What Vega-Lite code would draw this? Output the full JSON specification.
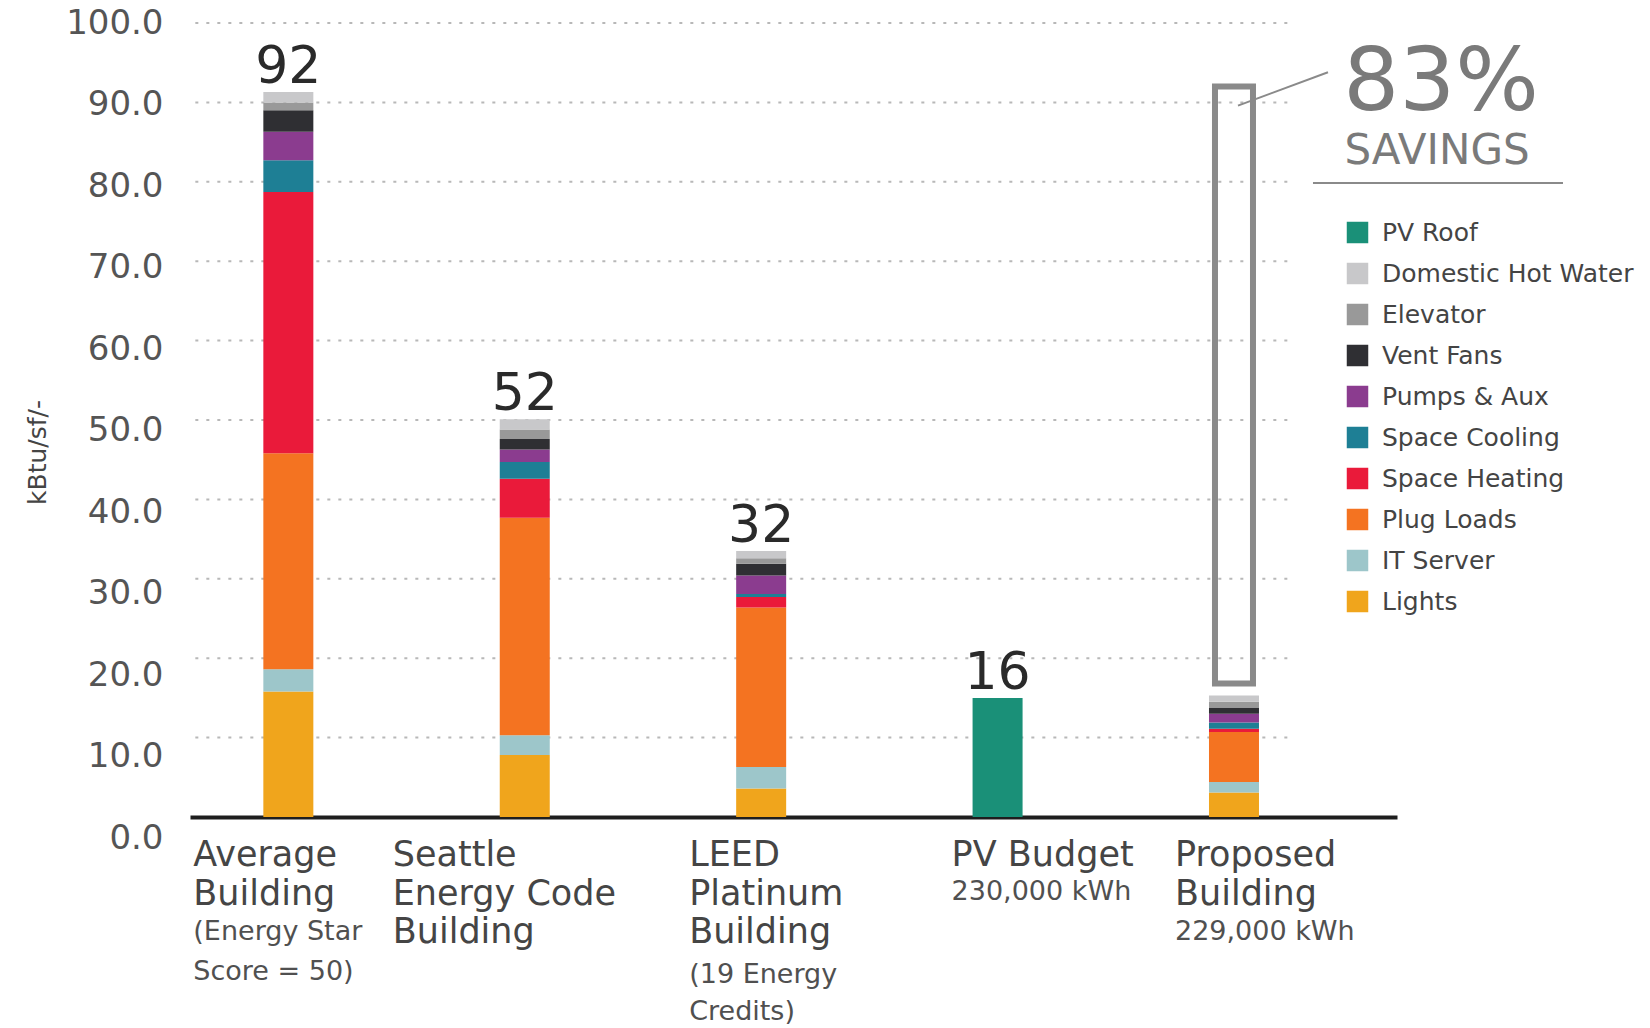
{
  "$schema": "https://vega.github.io/schema/vega-lite/v6.json",
  "width": 1207,
  "height": 794,
  "autosize": {"type": "none"},
  "padding": {"left": 190, "top": 23, "right": 253, "bottom": 211},
  "background": "white",
  "config": {"view": {"stroke": null}, "font": "DejaVu Sans"},
  "datasets": {
    "energy": [
      {"building": "Average Building", "component": "Lights", "value": 15.8},
      {"building": "Average Building", "component": "IT Server", "value": 2.8},
      {"building": "Average Building", "component": "Plug Loads", "value": 27.2},
      {"building": "Average Building", "component": "Space Heating", "value": 32.9},
      {"building": "Average Building", "component": "Space Cooling", "value": 4.0},
      {"building": "Average Building", "component": "Pumps & Aux", "value": 3.6},
      {"building": "Average Building", "component": "Vent Fans", "value": 2.7},
      {"building": "Average Building", "component": "Elevator", "value": 1.0},
      {"building": "Average Building", "component": "Domestic Hot Water", "value": 1.3},
      {"building": "Seattle Energy Code Building", "component": "Lights", "value": 7.8},
      {"building": "Seattle Energy Code Building", "component": "IT Server", "value": 2.5},
      {"building": "Seattle Energy Code Building", "component": "Plug Loads", "value": 27.4},
      {"building": "Seattle Energy Code Building", "component": "Space Heating", "value": 4.9},
      {"building": "Seattle Energy Code Building", "component": "Space Cooling", "value": 2.1},
      {"building": "Seattle Energy Code Building", "component": "Pumps & Aux", "value": 1.6},
      {"building": "Seattle Energy Code Building", "component": "Vent Fans", "value": 1.3},
      {"building": "Seattle Energy Code Building", "component": "Elevator", "value": 1.2},
      {"building": "Seattle Energy Code Building", "component": "Domestic Hot Water", "value": 1.3},
      {"building": "LEED Platinum Building", "component": "Lights", "value": 3.6},
      {"building": "LEED Platinum Building", "component": "IT Server", "value": 2.7},
      {"building": "LEED Platinum Building", "component": "Plug Loads", "value": 20.1},
      {"building": "LEED Platinum Building", "component": "Space Heating", "value": 1.3},
      {"building": "LEED Platinum Building", "component": "Space Cooling", "value": 0.4},
      {"building": "LEED Platinum Building", "component": "Pumps & Aux", "value": 2.3},
      {"building": "LEED Platinum Building", "component": "Vent Fans", "value": 1.5},
      {"building": "LEED Platinum Building", "component": "Elevator", "value": 0.7},
      {"building": "LEED Platinum Building", "component": "Domestic Hot Water", "value": 0.9},
      {"building": "PV Budget", "component": "PV Roof", "value": 15.0},
      {"building": "Proposed Building", "component": "Lights", "value": 3.1},
      {"building": "Proposed Building", "component": "IT Server", "value": 1.3},
      {"building": "Proposed Building", "component": "Plug Loads", "value": 6.3},
      {"building": "Proposed Building", "component": "Space Heating", "value": 0.4},
      {"building": "Proposed Building", "component": "Space Cooling", "value": 0.8},
      {"building": "Proposed Building", "component": "Pumps & Aux", "value": 1.1},
      {"building": "Proposed Building", "component": "Vent Fans", "value": 0.8},
      {"building": "Proposed Building", "component": "Elevator", "value": 0.7},
      {"building": "Proposed Building", "component": "Domestic Hot Water", "value": 0.8}
    ],
    "grid": [
      {"g": 10}, {"g": 20}, {"g": 30}, {"g": 40}, {"g": 50},
      {"g": 60}, {"g": 70}, {"g": 80}, {"g": 90}, {"g": 100}
    ],
    "totals": [
      {"building": "Average Building", "top": 91.3, "label": "92"},
      {"building": "Seattle Energy Code Building", "top": 50.1, "label": "52"},
      {"building": "LEED Platinum Building", "top": 33.5, "label": "32"},
      {"building": "PV Budget", "top": 15.0, "label": "16"}
    ],
    "box": [
      {"building": "Proposed Building", "low": 16.8, "high": 92.0}
    ],
    "labels": [
      {"building": "Average Building", "name": "Average\nBuilding", "sub": "(Energy Star\nScore = 50)"},
      {"building": "Seattle Energy Code Building", "name": "Seattle\nEnergy Code\nBuilding", "sub": ""},
      {"building": "LEED Platinum Building", "name": "LEED\nPlatinum\nBuilding", "sub": "(19 Energy\nCredits)"},
      {"building": "PV Budget", "name": "PV Budget", "sub": "230,000 kWh"},
      {"building": "Proposed Building", "name": "Proposed\nBuilding", "sub": "229,000 kWh"}
    ],
    "savings": [
      {"building": "Proposed Building", "big": "83%", "bigY": 89.1, "small": "SAVINGS", "smallY": 82.3, "lineY": 79.85, "leadFrom": 89.6, "leadTo": 93.8}
    ]
  },
  "encoding": {
    "x": {
      "field": "building",
      "type": "nominal",
      "sort": ["Average Building", "Seattle Energy Code Building", "LEED Platinum Building", "PV Budget", "Proposed Building"],
      "scale": {"paddingInner": 0.7885, "paddingOuter": 0.447, "align": 0.347},
      "axis": {"title": null, "labels": false, "ticks": false, "grid": false, "domainColor": "#1e1e1e", "domainWidth": 4}
    }
  },
  "layer": [
    {
      "data": {"name": "grid"},
      "mark": {"type": "rule", "color": "#b8b8b8", "strokeWidth": 2, "strokeDash": [3, 8], "xOffset": -93, "x2Offset": 60},
      "encoding": {
        "x": {"datum": "Average Building"},
        "x2": {"datum": "Proposed Building"},
        "y": {"field": "g", "type": "quantitative", "title": "kBtu/sf/-", "scale": {"domain": [0, 100], "nice": false}}
      }
    },
    {
      "data": {"name": "energy"},
      "transform": [
        {"calculate": "indexof(['Lights','IT Server','Plug Loads','Space Heating','Space Cooling','Pumps & Aux','Vent Fans','Elevator','Domestic Hot Water','PV Roof'], datum.component)", "as": "stackRank"}
      ],
      "mark": {"type": "bar"},
      "encoding": {
        "y": {
          "field": "value",
          "type": "quantitative",
          "stack": "zero",
          "title": "kBtu/sf/-",
          "scale": {"domain": [0, 100], "nice": false},
          "axis": {
            "title": "kBtu/sf/-",
            "titleFont": "DejaVu Sans",
            "titleFontSize": 25,
            "titleFontWeight": "normal",
            "titleColor": "#444444",
            "titleAngle": -90,
            "titleX": -153,
            "titleY": 429,
            "titleAlign": "center",
            "titleBaseline": "middle",
            "values": [0, 10, 20, 30, 40, 50, 60, 70, 80, 90, 100],
            "format": ".1f",
            "labelFont": "DejaVu Sans",
            "labelFontSize": 34,
            "labelColor": "#555555",
            "labelPadding": 27,
            "labelOffset": {"condition": {"test": "datum.value < 100", "expr": "(100 - datum.value) * 0.21"}, "value": 0},
            "ticks": false,
            "tickSize": 0,
            "domain": false,
            "grid": false
          }
        },
        "order": {"field": "stackRank", "type": "quantitative", "sort": "ascending"},
        "color": {
          "field": "component",
          "type": "nominal",
          "scale": {
            "domain": ["PV Roof", "Domestic Hot Water", "Elevator", "Vent Fans", "Pumps & Aux", "Space Cooling", "Space Heating", "Plug Loads", "IT Server", "Lights"],
            "range": ["#1a9078", "#c8c8ca", "#999999", "#2f2f33", "#8b3c8f", "#1e7f95", "#ea1a3a", "#f47321", "#9dc6ca", "#f0a51c"]
          },
          "legend": {
            "orient": "none",
            "legendX": 1155,
            "legendY": 197,
            "title": null,
            "symbolType": "square",
            "symbolSize": 462,
            "symbolStrokeWidth": 0,
            "symbolOpacity": 1,
            "labelFont": "DejaVu Sans",
            "labelFontSize": 25,
            "labelColor": "#444444",
            "labelOffset": 12,
            "labelLimit": 400,
            "rowPadding": 15,
            "padding": 0
          }
        }
      }
    },
    {
      "data": {"name": "box"},
      "mark": {"type": "bar", "filled": false, "color": "#8a8a8a", "strokeWidth": 6, "width": 38},
      "encoding": {
        "y": {"field": "low", "type": "quantitative", "title": "kBtu/sf/-", "scale": {"domain": [0, 100], "nice": false}},
        "y2": {"field": "high"}
      }
    },
    {
      "data": {"name": "totals"},
      "mark": {"type": "text", "fontSize": 52, "color": "#2a2a2a", "baseline": "alphabetic", "align": "center", "dy": -9},
      "encoding": {
        "y": {"field": "top", "type": "quantitative", "title": "kBtu/sf/-", "scale": {"domain": [0, 100], "nice": false}},
        "text": {"field": "label"}
      }
    },
    {
      "data": {"name": "labels"},
      "transform": [{"filter": "datum.building == 'Average Building'"}],
      "mark": {"type": "text", "align": "left", "baseline": "top", "dx": -95, "dy": 21, "fontSize": 35, "lineHeight": 38.5, "lineBreak": "\n", "color": "#454545"},
      "encoding": {"y": {"datum": 0, "type": "quantitative", "title": "kBtu/sf/-", "scale": {"domain": [0, 100], "nice": false}}, "text": {"field": "name"}}
    },
    {
      "data": {"name": "labels"},
      "transform": [{"filter": "datum.building == 'Seattle Energy Code Building'"}],
      "mark": {"type": "text", "align": "left", "baseline": "top", "dx": -132, "dy": 21, "fontSize": 35, "lineHeight": 38.5, "lineBreak": "\n", "color": "#454545"},
      "encoding": {"y": {"datum": 0, "type": "quantitative", "title": "kBtu/sf/-", "scale": {"domain": [0, 100], "nice": false}}, "text": {"field": "name"}}
    },
    {
      "data": {"name": "labels"},
      "transform": [{"filter": "datum.building == 'LEED Platinum Building'"}],
      "mark": {"type": "text", "align": "left", "baseline": "top", "dx": -72, "dy": 21, "fontSize": 35, "lineHeight": 38.5, "lineBreak": "\n", "color": "#454545"},
      "encoding": {"y": {"datum": 0, "type": "quantitative", "title": "kBtu/sf/-", "scale": {"domain": [0, 100], "nice": false}}, "text": {"field": "name"}}
    },
    {
      "data": {"name": "labels"},
      "transform": [{"filter": "datum.building == 'PV Budget'"}],
      "mark": {"type": "text", "align": "left", "baseline": "top", "dx": -46, "dy": 21, "fontSize": 35, "lineHeight": 38.5, "lineBreak": "\n", "color": "#454545"},
      "encoding": {"y": {"datum": 0, "type": "quantitative", "title": "kBtu/sf/-", "scale": {"domain": [0, 100], "nice": false}}, "text": {"field": "name"}}
    },
    {
      "data": {"name": "labels"},
      "transform": [{"filter": "datum.building == 'Proposed Building'"}],
      "mark": {"type": "text", "align": "left", "baseline": "top", "dx": -59, "dy": 21, "fontSize": 35, "lineHeight": 38.5, "lineBreak": "\n", "color": "#454545"},
      "encoding": {"y": {"datum": 0, "type": "quantitative", "title": "kBtu/sf/-", "scale": {"domain": [0, 100], "nice": false}}, "text": {"field": "name"}}
    },
    {
      "data": {"name": "labels"},
      "transform": [{"filter": "datum.building == 'Average Building'"}],
      "mark": {"type": "text", "align": "left", "baseline": "top", "dx": -95, "dy": 102, "fontSize": 27, "lineHeight": 40, "lineBreak": "\n", "color": "#505050"},
      "encoding": {"y": {"datum": 0, "type": "quantitative", "title": "kBtu/sf/-", "scale": {"domain": [0, 100], "nice": false}}, "text": {"field": "sub"}}
    },
    {
      "data": {"name": "labels"},
      "transform": [{"filter": "datum.building == 'LEED Platinum Building'"}],
      "mark": {"type": "text", "align": "left", "baseline": "top", "dx": -72, "dy": 145, "fontSize": 27, "lineHeight": 37, "lineBreak": "\n", "color": "#505050"},
      "encoding": {"y": {"datum": 0, "type": "quantitative", "title": "kBtu/sf/-", "scale": {"domain": [0, 100], "nice": false}}, "text": {"field": "sub"}}
    },
    {
      "data": {"name": "labels"},
      "transform": [{"filter": "datum.building == 'PV Budget'"}],
      "mark": {"type": "text", "align": "left", "baseline": "top", "dx": -46, "dy": 62, "fontSize": 27, "lineHeight": 40, "lineBreak": "\n", "color": "#505050"},
      "encoding": {"y": {"datum": 0, "type": "quantitative", "title": "kBtu/sf/-", "scale": {"domain": [0, 100], "nice": false}}, "text": {"field": "sub"}}
    },
    {
      "data": {"name": "labels"},
      "transform": [{"filter": "datum.building == 'Proposed Building'"}],
      "mark": {"type": "text", "align": "left", "baseline": "top", "dx": -59, "dy": 102, "fontSize": 27, "lineHeight": 40, "lineBreak": "\n", "color": "#505050"},
      "encoding": {"y": {"datum": 0, "type": "quantitative", "title": "kBtu/sf/-", "scale": {"domain": [0, 100], "nice": false}}, "text": {"field": "sub"}}
    },
    {
      "data": {"name": "savings"},
      "mark": {"type": "text", "align": "center", "baseline": "alphabetic", "dx": 207, "fontSize": 88, "color": "#7a7a7a"},
      "encoding": {"y": {"field": "bigY", "type": "quantitative", "title": "kBtu/sf/-", "scale": {"domain": [0, 100], "nice": false}}, "text": {"field": "big"}}
    },
    {
      "data": {"name": "savings"},
      "mark": {"type": "text", "align": "center", "baseline": "alphabetic", "dx": 203, "fontSize": 42, "color": "#7a7a7a"},
      "encoding": {"y": {"field": "smallY", "type": "quantitative", "title": "kBtu/sf/-", "scale": {"domain": [0, 100], "nice": false}}, "text": {"field": "small"}}
    },
    {
      "data": {"name": "savings"},
      "mark": {"type": "rule", "color": "#8a8a8a", "strokeWidth": 2, "xOffset": 79, "x2Offset": 329},
      "encoding": {
        "x2": {"field": "building"},
        "y": {"field": "lineY", "type": "quantitative", "title": "kBtu/sf/-", "scale": {"domain": [0, 100], "nice": false}}
      }
    },
    {
      "data": {"name": "savings"},
      "mark": {"type": "rule", "color": "#8a8a8a", "strokeWidth": 2, "xOffset": 4, "x2Offset": 94},
      "encoding": {
        "x2": {"field": "building"},
        "y": {"field": "leadFrom", "type": "quantitative", "title": "kBtu/sf/-", "scale": {"domain": [0, 100], "nice": false}},
        "y2": {"field": "leadTo"}
      }
    }
  ]
}
